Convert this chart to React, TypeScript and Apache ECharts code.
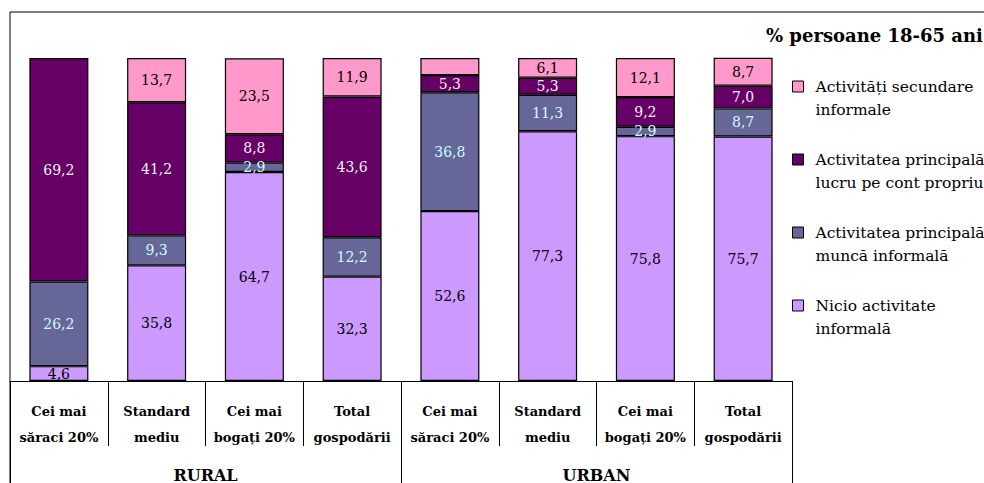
import React, { useEffect, useRef } from "react";
import * as echarts from "echarts";

const categories = [
  "Cei mai săraci 20%",
  "Standard mediu",
  "Cei mai bogați 20%",
  "Total gospodării",
  "Cei mai săraci 20%",
  "Standard mediu",
  "Cei mai bogați 20%",
  "Total gospodării",
];
const groups = ["RURAL", "URBAN"];

const nicioActivitate = [4.6, 35.8, 64.7, 32.3, 52.6, 77.3, 75.8, 75.7];
const muncaInformala = [26.2, 9.3, 2.9, 12.2, 36.8, 11.3, 2.9, 8.7];
const contPropriu = [69.2, 41.2, 8.8, 43.6, 5.3, 5.3, 9.2, 7.0];
const secundare = [0, 13.7, 23.5, 11.9, 5.3, 6.1, 12.1, 8.7];
const secundareHiddenLabels = [0, 4];

const seriesNames = [
  "Nicio activitate informală",
  "Activitatea principală muncă informală",
  "Activitatea principală lucru pe cont propriu",
  "Activități secundare informale",
];
const legendTitle = "% persoane 18-65 ani";

const SERIF = "DejaVu Serif";

function splitCategory(c: string) {
  if (c.startsWith("Cei mai ")) return "Cei mai\n" + c.slice(8);
  const i = c.indexOf(" ");
  return c.slice(0, i) + "\n" + c.slice(i + 1);
}
function splitLegend(n: string) {
  const w = n.split(" ");
  // leading empty line so the first text line sits level with the swatch
  return "\n" + w.slice(0, 2).join(" ") + "\n" + w.slice(2).join(" ");
}
const fmt = (v: number) => v.toFixed(1).replace(".", ",");

export default function App() {
  const ref = useRef<HTMLDivElement>(null);
  useEffect(() => {
    if (!ref.current) return;
    const chart = echarts.init(ref.current, undefined, { renderer: "svg" });
    const colors = ["#CC99FF", "#666699", "#660066", "#FF99CC"];
    const labelColors = ["#000000", "#CCFFFF", "#F2F2F2", "#000000"];
    const values = [nicioActivitate, muncaInformala, contPropriu, secundare];
    const series = values.map((vals, si) => ({
      name: seriesNames[si],
      type: "bar",
      stack: "total",
      barWidth: 59,
      xAxisIndex: 0,
      itemStyle: { color: colors[si], borderColor: "#000", borderWidth: 1.2 },
      label: {
        show: true,
        position: "inside",
        color: labelColors[si],
        fontFamily: SERIF,
        fontSize: 14,
        formatter: (p: any) => fmt(p.value),
      },
      data: vals.map((v, i) =>
        si === 3 && secundareHiddenLabels.includes(i)
          ? { value: v, label: { show: false }, itemStyle: v === 0 ? { borderWidth: 0 } : {} }
          : v
      ),
    }));
    chart.setOption({
      animation: false,
      title: {
        text: legendTitle,
        left: 766,
        top: 26,
        padding: 0,
        textStyle: { fontFamily: SERIF, fontSize: 18, fontWeight: "bold", color: "#000" },
      },
      legend: {
        orient: "vertical",
        left: 792,
        top: 52,
        padding: 0,
        itemGap: 4,
        itemWidth: 11,
        itemHeight: 11,
        icon: "rect",
        itemStyle: { borderColor: "#000", borderWidth: 1 },
        data: [seriesNames[3], seriesNames[2], seriesNames[1], seriesNames[0]],
        formatter: (n: string) => splitLegend(n),
        textStyle: {
          fontFamily: SERIF,
          fontSize: 15.5,
          lineHeight: 23,
          color: "#000",
          padding: [0, 0, 0, 7],
        },
      },
      grid: { left: 10, right: 192, top: 58, bottom: 102, outerBoundsMode: "none", containLabel: false },
      xAxis: [
        {
          type: "category",
          data: categories,
          position: "bottom",
          axisLine: { show: true, lineStyle: { color: "#000", width: 1 } },
          axisTick: { show: true, length: 65, interval: 0, lineStyle: { color: "#000" } },
          axisLabel: {
            interval: 0,
            margin: 17,
            fontFamily: SERIF,
            fontSize: 13,
            fontWeight: "bold",
            lineHeight: 26,
            color: "#000",
            formatter: (c: string) => splitCategory(c),
          },
        },
        {
          type: "category",
          data: groups,
          position: "bottom",
          axisLine: { show: false },
          axisTick: { show: true, length: 120, interval: 0, lineStyle: { color: "#000" } },
          axisLabel: {
            interval: 0,
            margin: 86,
            fontFamily: SERIF,
            fontSize: 16,
            fontWeight: "bold",
            lineHeight: 16,
            color: "#000",
          },
        },
      ],
      yAxis: { type: "value", min: 0, max: 100, show: false },
      graphic: [
        {
          type: "rect",
          z: -10,
          shape: { x: 10, y: 12, width: 1200, height: 700 },
          style: { fill: "none", stroke: "#000", lineWidth: 1 },
        },
      ],
      series,
    });
    return () => chart.dispose();
  }, []);
  return (
    <div
      ref={ref}
      style={{ position: "fixed", left: 0, top: 0, width: 984, height: 483, background: "#fff" }}
    />
  );
}
